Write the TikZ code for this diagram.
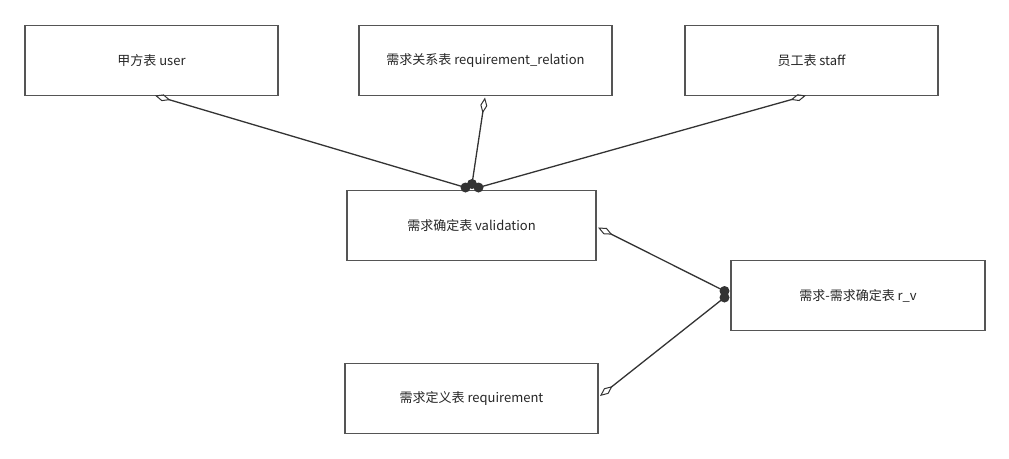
\documentclass[tikz,border=0pt]{standalone}
\usepackage{fontspec}
\setmainfont{Noto Sans CJK SC}
\usetikzlibrary{arrows.meta}
\definecolor{boxline}{HTML}{555555}
\definecolor{conline}{HTML}{333333}
\tikzset{
  tbl/.style={draw=boxline, line width=1.6pt, fill=white, minimum width=253pt, minimum height=70pt, inner sep=0pt, font=\fontsize{13}{15}\selectfont, text=black!85},
  dot/.style={circle, fill=conline, inner sep=0pt, minimum size=10pt},
  con/.style={draw=conline, line width=1.3pt, {Diamond[open, length=16pt, width=7pt, line width=1pt]}-},
}
\begin{document}
\begin{tikzpicture}[x=1pt, y=-1pt]
\useasboundingbox (0,0) rectangle (1009,458);
\node[tbl] (user) at (151.5,60.5) {甲方表 user};
\node[tbl] (rr) at (485.5,60.5) {需求关系表 requirement\_relation};
\node[tbl] (staff) at (811.5,60.5) {员工表 staff};
\node[tbl, minimum width=249pt] (val) at (471.5,225.5) {需求确定表 validation};
\node[tbl, minimum width=254pt] (rv) at (858,295.5) {需求-需求确定表 r\_v};
\node[tbl] (req) at (471.5,398.5) {需求定义表 requirement};
% connector ends
\coordinate (u1) at (155,95.5);
\coordinate (r1) at (485,97.5);
\coordinate (s1) at (806,95.5);
\coordinate (v1) at (598,227.5);
\coordinate (q1) at (600,396);
\node[dot] (cu) at (465.5,187.5) {};
\node[dot] (cr) at (472,184) {};
\node[dot] (cs) at (478.5,187.5) {};
\node[dot] (cv) at (724.5,291) {};
\node[dot] (cq) at (724.5,297.5) {};
\draw[con] (u1) -- (cu.center);
\draw[con] (s1) -- (cs.center);
\draw[con] (r1) -- (cr.center);
\draw[con] (v1) -- (cv.center);
\draw[con] (q1) -- (cq.center);
\end{tikzpicture}
\end{document}
